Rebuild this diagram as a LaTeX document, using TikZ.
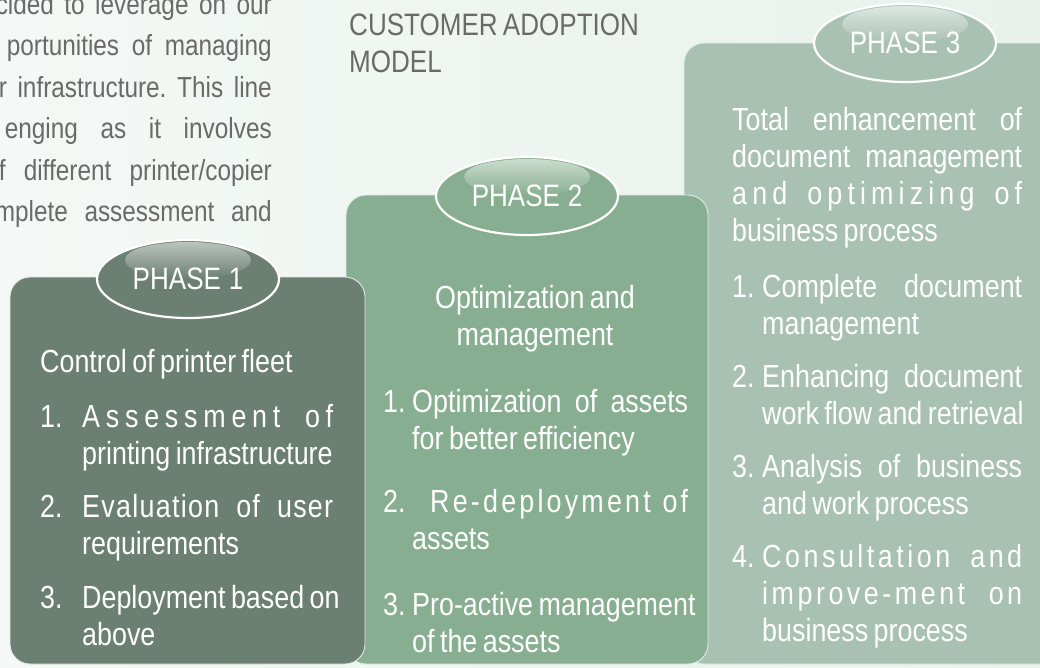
\documentclass[tikz,border=0pt]{standalone}
\usepackage{fontspec}
\setmainfont{Liberation Sans}[FakeStretch=0.84, WordSpace=0.7]
\usetikzlibrary{shapes.geometric}
\definecolor{mintbg}{HTML}{F4F8F6}
\definecolor{mintbgr}{HTML}{E8F2EB}
\definecolor{slategreen}{HTML}{6B7F72}
\definecolor{sagegreen}{HTML}{87AE90}
\definecolor{palegreen}{HTML}{A8C1B2}
\definecolor{captiongrey}{HTML}{6A6A6A}
\definecolor{rimwhite}{HTML}{E2ECE5}
\frenchspacing

% tight word spacing; justified line; letter-spaced justified line
\newcommand{\tight}{\spaceskip=0.17em plus 0.05em minus 0.03em\relax}
\newcommand{\pl}[1]{\mbox{\tight#1}}
\newcommand{\jl}[1]{\makebox[\linewidth][s]{\spaceskip=0.17em plus 1fil\relax#1}}
\newcommand{\ls}[2]{\makebox[\linewidth][s]{\spaceskip=0.17em plus 1fil\relax\addfontfeature{LetterSpace=#1}#2}}
\newcommand{\pline}[2]{\makebox[#1][s]{#2}}

\begin{document}
\begin{tikzpicture}[
  x=1pt, y=-1pt,
  panel/.style={rounded corners=20pt, draw=rimwhite, line width=0.9pt, inner sep=0pt},
  phase/.style={ellipse, draw=white, line width=2.2pt, minimum width=182pt, minimum height=78pt, inner sep=0pt},
  phaselbl/.style={text=white, font={\fontsize{31}{31}\selectfont\spaceskip=0.25em\relax}, inner sep=0pt},
  para/.style={text=captiongrey, font=\fontsize{29}{29}\selectfont, anchor=base east, inner sep=0pt},
  heading/.style={text=captiongrey, font=\fontsize{31}{37}\selectfont, anchor=base west, inner sep=0pt},
  body/.style={text=white, font=\fontsize{32}{37}\selectfont, anchor=base west, inner sep=0pt},
  num/.style={body}
]
  \useasboundingbox (0,0) rectangle (1040,667);
  \clip (0,0) rectangle (1040,667);
  \shade[left color=mintbg, right color=mintbgr] (0,0) rectangle (1040,667);

  % intro paragraph, running off the left edge
  \node[para] (p1) at (272,14)  {\pline{276pt}{cided to leverage on our}};
  \node[para] (p2) at (272,55)  {\pline{265pt}{portunities of managing}};
  \node[para] (p3) at (272,97)  {\pline{273pt}{r infrastructure. This line}};
  \node[para] (p4) at (272,138) {\pline{267pt}{enging as it involves}};
  \node[para] (p5) at (272,180) {\pline{273pt}{f different printer/copier}};
  \node[para] (p6) at (272,221) {\pline{277pt}{mplete assessment and}};

  \node[heading, text width=320pt] (title) at (349,35) {\pl{CUSTOMER ADOPTION}\\MODEL};

  % panels, back to front
  \node[panel, fill=palegreen, minimum width=386pt, minimum height=621pt] (box3) at (877,353.5) {};
  \node[phase, fill=palegreen] (ph3) at (905,43) {};
  \begin{scope}
    \clip (ph3.center) ellipse [x radius=89pt, y radius=37pt];
    \shade[top color=white!62!palegreen, bottom color=palegreen] ([yshift=19pt]ph3.center) ellipse [x radius=63pt, y radius=19pt];
  \end{scope}
  \node[phaselbl] (ph3lbl) at (ph3.center) {PHASE 3};

  \node[panel, fill=sagegreen, minimum width=362pt, minimum height=469pt] (box2) at (527,429.5) {};
  \node[phase, fill=sagegreen] (ph2) at (527,196) {};
  \begin{scope}
    \clip (ph2.center) ellipse [x radius=89pt, y radius=37pt];
    \shade[top color=white!58!sagegreen, bottom color=sagegreen] ([yshift=19pt]ph2.center) ellipse [x radius=63pt, y radius=19pt];
  \end{scope}
  \node[phaselbl] (ph2lbl) at (ph2.center) {PHASE 2};

  \node[panel, fill=slategreen, minimum width=355pt, minimum height=387pt] (box1) at (187.5,470.5) {};
  \node[phase, fill=slategreen] (ph1) at (188,279) {};
  \begin{scope}
    \clip (ph1.center) ellipse [x radius=89pt, y radius=37pt];
    \shade[top color=white!55!slategreen, bottom color=slategreen] ([yshift=19pt]ph1.center) ellipse [x radius=63pt, y radius=19pt];
  \end{scope}
  \node[phaselbl] (ph1lbl) at (ph1.center) {PHASE 1};

  % phase 1
  \node[body, text width=300pt] (t1) at (40,372) {\pl{Control of printer fleet}};
  \node[num] (n11) at (40,427) {1.};
  \node[body, text width=251pt] (i11) at (82,427) {\ls{18}{Assessment of}\\\pl{printing infrastructure}};
  \node[num] (n12) at (40,517) {2.};
  \node[body, text width=251pt] (i12) at (82,517) {\ls{4}{Evaluation of user}\\requirements};
  \node[num] (n13) at (40,608) {3.};
  \node[body, text width=251pt] (i13) at (82,608) {\pl{Deployment based on}\\above};

  % phase 2
  \node[body, text width=276pt, align=center, anchor=base] (t2) at (535,308) {\pl{Optimization and}\\management};
  \node[num] (n21) at (383,412) {1.};
  \node[body, text width=276pt] (i21) at (412,412) {\jl{Optimization of assets}\\\pl{for better efficiency}};
  \node[num] (n22) at (383,512) {2.};
  \node[body, text width=276pt] (i22) at (412,512) {\ls{10}{\hspace*{18pt}Re-deployment of}\\assets};
  \node[num] (n23) at (383,615) {3.};
  \node[body, text width=276pt] (i23) at (412,615) {\jl{Pro-active management}\\\pl{of the assets}};

  % phase 3
  \begin{scope}[every node/.append style={text=white!94!palegreen}]
    \node[body, text width=290pt] (t3) at (732,130) {\jl{Total enhancement of}\\\jl{document management}\\\ls{16}{and optimizing of}\\\pl{business process}};
    \node[num] (n31) at (732,297) {1.};
    \node[body, text width=260pt] (i31) at (762,297) {\jl{Complete document}\\management};
    \node[num] (n32) at (732,387) {2.};
    \node[body, text width=260pt] (i32) at (762,387) {\jl{Enhancing document}\\\pl{work flow and retrieval}};
    \node[num] (n33) at (732,477) {3.};
    \node[body, text width=260pt] (i33) at (762,477) {\jl{Analysis of business}\\\pl{and work process}};
    \node[num] (n34) at (732,567) {4.};
    \node[body, text width=260pt] (i34) at (762,567) {\ls{11}{Consultation and}\\\ls{11}{improve-ment on}\\\pl{business process}};
  \end{scope}
\end{tikzpicture}
\end{document}
